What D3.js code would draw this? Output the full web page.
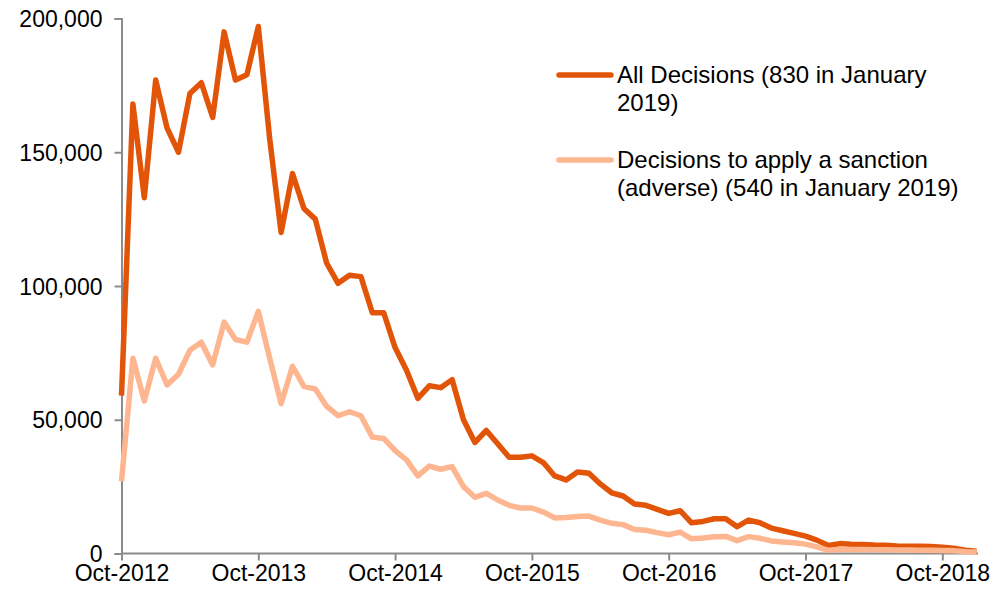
<!DOCTYPE html>
<html>
<head>
<meta charset="utf-8">
<script src="https://cdn.jsdelivr.net/npm/d3@7"></script>
<style>
  html, body { margin: 0; padding: 0; background: #fff; }
  text { font-family: "Liberation Sans", Arial, sans-serif; fill: #000; }
</style>
</head>
<body>
<div id="chart"></div>
<script>
// monthly figures, Oct 2012 .. Jan 2019
const startMonth = new Date(2012, 9, 1);
const endMonth = new Date(2019, 0, 1);

const allDecisions = [
  59000, 168000, 133000, 177000, 159000, 150000, 172000, 176000, 163000, 195000, 177000, 179000,
  197000, 155000, 120000, 142000, 129000, 125000, 108500, 101000, 104000, 103500, 90000, 90000,
  77000, 68500, 58000, 62700, 62000, 65000, 50000, 41500, 46000, 41000, 36000, 36000,
  36500, 34000, 29000, 27500, 30500, 30000, 26000, 22700, 21500, 18500, 18000, 16500,
  15000, 16000, 11500, 12000, 13000, 13000, 10000, 12500, 11500, 9500, 8500, 7500,
  6500, 5000, 3000, 3700, 3500, 3400, 3200, 3100, 2800, 2700, 2700, 2600,
  2300, 2000, 1200, 830
];

const adverseDecisions = [
  27000, 73000, 57000, 73000, 63000, 67000, 76000, 79000, 70500, 86500, 80000, 79000,
  90500, 73000, 56000, 70000, 62500, 61500, 55000, 51500, 53000, 51500, 43500, 43000,
  38500, 35000, 29000, 32700, 31500, 32500, 25000, 21000, 22500, 20000, 18000, 17000,
  17000, 15500, 13300, 13500, 13800, 14000, 12500, 11300, 10800, 9000, 8700, 7800,
  7000, 8000, 5500, 5800, 6300, 6400, 4800, 6300, 5700, 4700, 4300, 4000,
  3500, 2500, 1200, 1500, 1500, 1500, 1400, 1400, 1300, 1300, 1200, 1200,
  1100, 1000, 700, 540
];

const yTicks = [0, 50000, 100000, 150000, 200000];
const seriesNames = [
  ['All Decisions (830 in January', '2019)'],
  ['Decisions to apply a sanction', '(adverse) (540 in January 2019)']
];
const colors = ['#E25508', '#FDB690'];

const width = 993, height = 595;
const months = d3.timeMonth.range(startMonth, d3.timeMonth.offset(endMonth, 1));

const svg = d3.select('#chart').append('svg')
  .attr('width', width)
  .attr('height', height);

const x = d3.scalePoint()
  .domain(months)
  .range([121.5, 976.5]);

const y = d3.scaleLinear()
  .domain([0, 200000])
  .range([553.5, 18.5]);

// y axis
const yAxis = svg.append('g')
  .attr('transform', 'translate(121.5,0)')
  .call(d3.axisLeft(y).tickValues(yTicks).tickSize(7).tickPadding(12)
    .tickFormat(d3.format(',')));
yAxis.selectAll('text').style('font-size', '23px').attr('dy', '0.35em');

// x axis
const xAxis = svg.append('g')
  .attr('transform', 'translate(0,553.5)')
  .call(d3.axisBottom(x)
    .tickValues(months.filter((d, i) => i % 12 === 0))
    .tickSize(7).tickPadding(4)
    .tickFormat(d3.timeFormat('%b-%Y')));
xAxis.select('.domain').attr('d', 'M121.5,0H978');
xAxis.selectAll('text').style('font-size', '23px');

svg.selectAll('.domain, .tick line')
  .attr('stroke', '#8c8c8c')
  .attr('stroke-width', 2);

// lines
const line = d3.line()
  .x((d, i) => x(months[i]))
  .y(d => y(d));

[allDecisions, adverseDecisions].forEach((vals, k) => {
  svg.append('path')
    .datum(vals)
    .attr('fill', 'none')
    .attr('stroke', colors[k])
    .attr('stroke-width', 5.5)
    .attr('stroke-linejoin', 'round')
    .attr('d', line);
});

// legend
const legendY = [75, 160];
seriesNames.forEach((lines, k) => {
  const g = svg.append('g').attr('transform', `translate(557,${legendY[k]})`);
  g.append('line')
    .attr('x1', 2).attr('x2', 54)
    .attr('stroke', colors[k])
    .attr('stroke-width', 5.5)
    .attr('stroke-linecap', 'round');
  const t = g.append('text')
    .attr('x', 60)
    .attr('y', 8)
    .style('font-size', '24px');
  lines.forEach((s, j) => {
    t.append('tspan').attr('x', 60).attr('dy', j === 0 ? 0 : 28).text(s);
  });
});
</script>
</body>
</html>
